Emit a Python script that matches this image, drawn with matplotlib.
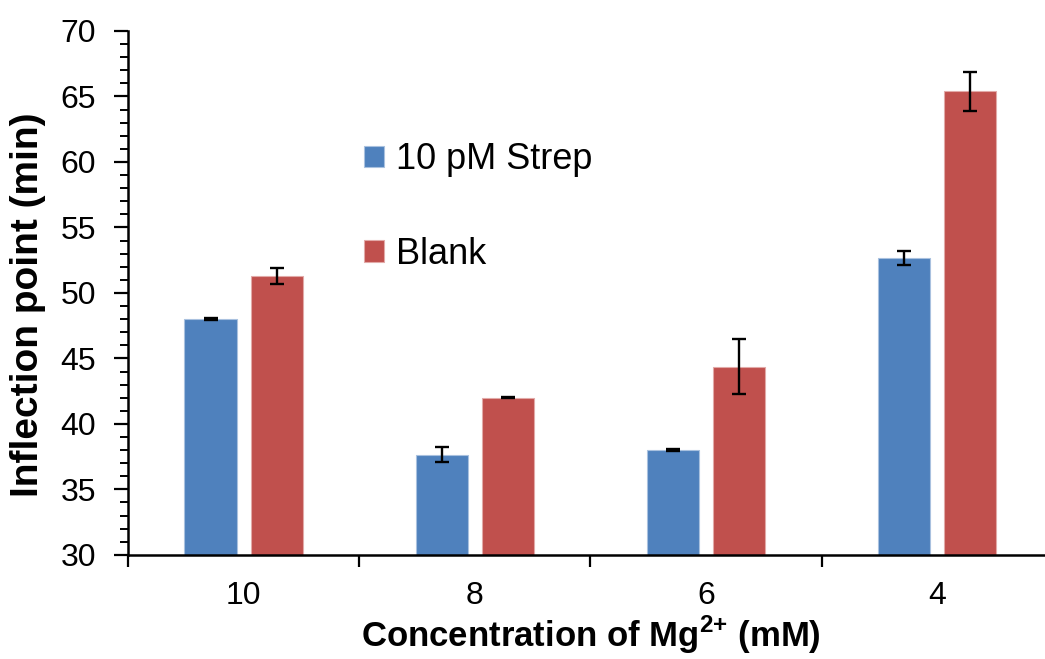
import matplotlib
matplotlib.use("Agg")
import matplotlib.pyplot as plt
from matplotlib.patches import Patch
from matplotlib.ticker import MultipleLocator
import numpy as np

# Data
categories = ["10", "8", "6", "4"]
strep_values = [48.0, 37.65, 38.0, 52.65]
strep_errors = [0.05, 0.55, 0.05, 0.55]
blank_values = [51.3, 42.0, 44.35, 65.4]
blank_errors = [0.6, 0.05, 2.1, 1.5]
series_labels = ["10 pM Strep", "Blank"]

blue = "#4F81BD"
red = "#C0504D"
blue_edge = "#a9c1df"
red_edge = "#e2aaa8"

plt.rcParams["font.family"] = ["Liberation Sans", "DejaVu Sans"]
plt.rcParams["mathtext.fontset"] = "custom"
plt.rcParams["mathtext.rm"] = "Liberation Sans"
plt.rcParams["mathtext.bf"] = "Liberation Sans:bold"

fig = plt.figure(figsize=(10.45, 6.59), dpi=100)
ax = fig.add_axes([0.1225, 0.158, 0.885, 0.795])

x = np.arange(len(categories))
width = 0.226
offset = 0.143

err_kw = dict(ecolor="black", elinewidth=1.7, capsize=5.2, capthick=1.7)
ax.bar(x - offset, strep_values, width, color=blue, edgecolor=blue_edge,
       linewidth=0.8, yerr=strep_errors, error_kw=err_kw, zorder=2)
ax.bar(x + offset, blank_values, width, color=red, edgecolor=red_edge,
       linewidth=0.8, yerr=blank_errors, error_kw=err_kw, zorder=2)

ax.set_xlim(-0.5, len(categories) - 0.5)
ax.set_ylim(30, 70)

# y axis: major every 5, minor every 1
ax.yaxis.set_major_locator(MultipleLocator(5))
ax.yaxis.set_minor_locator(MultipleLocator(1))
# x axis: tick marks between categories, labels centred on categories
ax.set_xticks(np.arange(-0.5, len(categories), 1.0))
ax.set_xticklabels([])
ax.set_xticks(x, minor=True)
ax.set_xticklabels(categories, minor=True)

ax.tick_params(axis="y", which="major", direction="out", length=10, width=1.6,
               labelsize=23, pad=13)
ax.tick_params(axis="y", which="minor", direction="out", length=5.5, width=1.4)
ax.tick_params(axis="x", which="major", direction="out", length=8.5, width=1.6)
ax.tick_params(axis="x", which="minor", length=0, labelsize=23, pad=19)

for side in ["top", "right"]:
    ax.spines[side].set_visible(False)
for side in ["left", "bottom"]:
    ax.spines[side].set_linewidth(1.8)

ax.set_ylabel("Inflection point (min)", fontsize=28, fontweight="bold")
ax.yaxis.set_label_coords(-0.0886, 0.477)
ax.set_xlabel("Concentration of Mg$^{\\mathbf{2{+}}}$ (mM)", fontsize=25,
              fontweight="bold")
ax.xaxis.set_label_coords(0.5, -0.112)

handles = [Patch(facecolor=blue, edgecolor=blue_edge, linewidth=0.8),
           Patch(facecolor=red, edgecolor=red_edge, linewidth=0.8)]
ax.legend(handles, series_labels, loc="upper left",
          bbox_to_anchor=(0.348, 0.784), bbox_transform=fig.transFigure,
          frameon=False, fontsize=26, borderpad=0, borderaxespad=0,
          handlelength=0.55, handleheight=0.55, handletextpad=0.35,
          labelspacing=1.64)

fig.savefig("out.png", dpi=100)
